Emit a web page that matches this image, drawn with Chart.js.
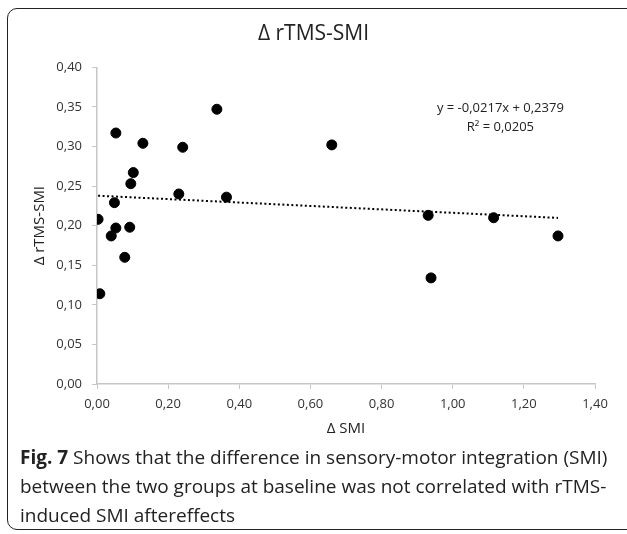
<!DOCTYPE html>
<html>
<head>
<meta charset="utf-8">
<script src="https://cdn.jsdelivr.net/npm/chart.js@4.4.1/dist/chart.umd.min.js"></script>
<style>
  html, body { margin: 0; padding: 0; background: #fff; width: 627px; height: 534px; overflow: hidden; }
  #frame { position: absolute; left: 7px; top: 8px; width: 660px; height: 522px; border: 1.5px solid #222; border-radius: 10px; box-sizing: border-box; }
  #c { position: absolute; left: 0; top: 0; }
  #caption { position: absolute; left: 20px; top: 443px; width: 605px; font-family: "Open Sans", sans-serif; font-size: 19px; line-height: 29px; color: #222; white-space: nowrap; }
  #caption b { font-weight: bold; }
</style>
</head>
<body>
<div id="frame"></div>
<canvas id="c" width="627" height="445"></canvas>
<div id="caption"><b>Fig. 7</b> Shows that the difference in sensory-motor integration (SMI)<br>between the two groups at baseline was not correlated with rTMS-<br>induced SMI aftereffects</div>
<script>
// ---- data ----
const deltaSMI  = [0.003, 0.053, 0.129, 0.337, 0.241, 0.102, 0.095, 0.230, 0.364, 0.049,
                   0.053, 0.092, 0.040, 0.078, 0.008, 0.660, 0.931, 1.115, 1.296, 0.939];
const deltaRTMS = [0.208, 0.317, 0.304, 0.347, 0.299, 0.267, 0.253, 0.240, 0.236, 0.229,
                   0.197, 0.198, 0.187, 0.160, 0.114, 0.302, 0.213, 0.210, 0.187, 0.134];
const trendX = [0.003, 1.296];
const trendY = [0.2378, 0.2098];
const chartTitle = 'Δ rTMS-SMI';
const xTitle = 'Δ SMI';
const yTitle = 'Δ rTMS-SMI';
const equationLines = ['y = -0,0217x + 0,2379', 'R² = 0,0205'];
const xRange = [0, 1.4], xStep = 0.2;
const yRange = [0, 0.4], yStep = 0.05;

const fmt = v => Number(v).toFixed(2).replace('.', ',');
const tickColor = '#333';
const axisGray = '#c6c6c6';
const baseFont = 'Open Sans';

const equationPlugin = {
  id: 'equation',
  afterDatasetsDraw(chart) {
    const {ctx, scales: {x, y}} = chart;
    ctx.save();
    ctx.font = '13px "' + baseFont + '"';
    ctx.fillStyle = '#222';
    ctx.textAlign = 'center';
    ctx.textBaseline = 'middle';
    const cx = x.getPixelForValue(1.134);
    ctx.fillText(equationLines[0], cx, y.getPixelForValue(0.348));
    ctx.fillText(equationLines[1], cx, y.getPixelForValue(0.324));
    ctx.restore();
  }
};

const points = deltaSMI.map((v, i) => ({x: v, y: deltaRTMS[i]}));
const trend = trendX.map((v, i) => ({x: v, y: trendY[i]}));

new Chart(document.getElementById('c'), {
  type: 'scatter',
  data: {
    datasets: [
      { data: points, backgroundColor: '#000', borderColor: '#000', pointRadius: 5, pointHoverRadius: 5, order: 1 },
      { type: 'line', data: trend, showLine: true, borderColor: '#000', borderWidth: 2, borderDash: [2, 2.5],
        pointRadius: 0, fill: false, order: 2 }
    ]
  },
  options: {
    responsive: false,
    animation: false,
    devicePixelRatio: 1,
    layout: { padding: { left: 0, right: 0, top: 0, bottom: 0 } },
    plugins: {
      legend: { display: false },
      tooltip: { enabled: false },
      title: { display: true, text: chartTitle, color: '#222',
               font: { family: baseFont, size: 21, weight: 'normal' },
               padding: { top: 21.4, bottom: 20.7 } }
    },
    scales: {
      x: {
        type: 'linear', min: xRange[0], max: xRange[1],
        ticks: { stepSize: xStep, callback: fmt, color: tickColor, padding: 7,
                 font: { family: baseFont, size: 13 } },
        grid: { drawOnChartArea: false, tickLength: 5, color: axisGray },
        border: { color: axisGray, width: 1.5 },
        title: { display: true, text: xTitle, color: '#222',
                 font: { family: baseFont, size: 15 }, padding: { top: 0, bottom: 7 } },
        afterFit: s => { s.height = 61; }
      },
      y: {
        type: 'linear', min: yRange[0], max: yRange[1],
        ticks: { stepSize: yStep, callback: fmt, color: tickColor, padding: 10,
                 font: { family: baseFont, size: 13 } },
        grid: { drawOnChartArea: false, tickLength: 5, color: axisGray },
        border: { color: axisGray, width: 1.5 },
        title: { display: true, text: yTitle, color: '#222',
                 font: { family: baseFont, size: 15 }, padding: { top: 31, bottom: 0 } },
        afterFit: s => { s.width = 97; }
      },
      yRightSpace: {
        type: 'linear', position: 'right', display: true,
        ticks: { display: false }, grid: { display: false }, border: { display: false },
        afterFit: s => { s.width = 32; }
      }
    }
  },
  plugins: [equationPlugin]
});
</script>
</body>
</html>
